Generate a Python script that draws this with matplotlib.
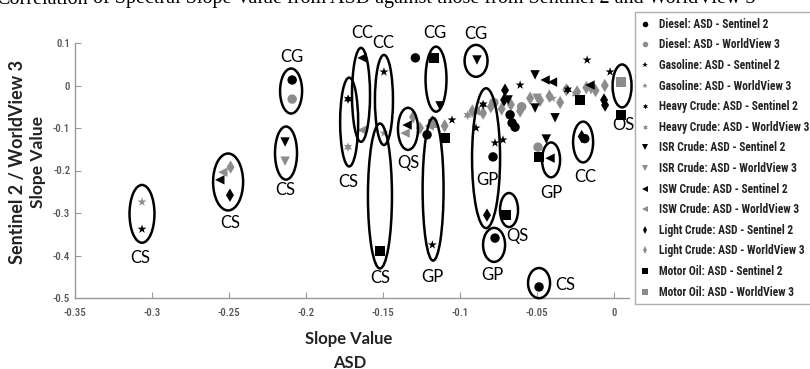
import matplotlib.pyplot as plt
from matplotlib.patches import Ellipse
from matplotlib.lines import Line2D
import matplotlib.font_manager as fm

# ---- data ----
diesel_s2_x = [-0.209, -0.129, -0.0786, -0.0773, -0.0487, -0.019, -0.0662, -0.0675, -0.0643, -0.1214]
diesel_s2_y = [0.013, 0.065, -0.168, -0.359, -0.474, -0.125, -0.088, -0.069, -0.098, -0.116]
diesel_wv_x = [-0.209, -0.0494, -0.078, -0.060]
diesel_wv_y = [-0.032, -0.145, -0.040, -0.050]

gasoline_s2_x = [-0.3065, -0.1494, -0.118, -0.0773, -0.0721, -0.0896, -0.1052, -0.061, -0.0175, -0.0026]
gasoline_s2_y = [-0.338, 0.032, -0.375, -0.135, -0.128, -0.100, -0.081, 0.001, 0.060, 0.032]
gasoline_wv_x = [-0.3065, -0.1494, -0.040]
gasoline_wv_y = [-0.274, -0.112, -0.030]

heavy_s2_x = [-0.1727, -0.030, -0.085]
heavy_s2_y = [-0.032, -0.010, -0.045]
heavy_wv_x = [-0.1727, -0.025, -0.095]
heavy_wv_y = [-0.145, -0.020, -0.070]

isr_s2_x = [-0.2136, -0.113, -0.089, -0.044, -0.0513, -0.0513, -0.0383, -0.0688]
isr_s2_y = [-0.133, -0.048, 0.060, -0.126, 0.025, -0.053, -0.076, -0.034]
isr_wv_x = [-0.2136, -0.050, -0.015]
isr_wv_y = [-0.178, -0.030, -0.010]

isw_s2_x = [-0.256, -0.1636, -0.1344, -0.0416, -0.0448, -0.0156, -0.040]
isw_s2_y = [-0.222, 0.065, -0.093, -0.171, 0.013, 0.001, 0.008]
isw_wv_x = [-0.254, -0.1636, -0.1357, -0.090, -0.120]
isw_wv_y = [-0.204, -0.105, -0.112, -0.060, -0.095]

light_s2_x = [-0.2494, -0.0825, -0.0708, -0.0714, -0.0058, -0.021, -0.0065]
light_s2_y = [-0.258, -0.305, -0.011, -0.034, -0.046, -0.120, -0.034]
light_wv_x = [-0.249, -0.1305, -0.126, -0.118, -0.110, -0.092, -0.085, -0.080, -0.073, -0.067,
              -0.061, -0.0545, -0.048, -0.042, -0.035, -0.031, -0.024, -0.018, -0.012, -0.006]
light_wv_y = [-0.192, -0.074, -0.100, -0.085, -0.095, -0.060, -0.065, -0.050, -0.055, -0.045,
              -0.060, -0.030, -0.035, -0.025, -0.040, -0.010, -0.015, -0.005, -0.012, 0.000]

motor_s2_x = [-0.152, -0.1169, -0.0701, -0.0487, 0.0045, -0.1097, -0.0221]
motor_s2_y = [-0.389, 0.065, -0.305, -0.168, -0.069, -0.124, -0.034]
motor_wv_x = [0.0045, -0.118]
motor_wv_y = [0.008, -0.090]

# ellipse groups: centre x, centre y, width, height, label, label x, label y
ell_cx = [-0.3065, -0.2506, -0.213, -0.2097, -0.172, -0.1643, -0.1494, -0.152, -0.1338, -0.1156,
          -0.0896, -0.1175, -0.0831, -0.0779, -0.0682, -0.0487, -0.0409, -0.0201, 0.0052]
ell_cy = [-0.302, -0.227, -0.159, -0.013, -0.086, -0.022, -0.034, -0.26, -0.102, 0.015,
          0.058, -0.244, -0.171, -0.375, -0.293, -0.465, -0.175, -0.133, -0.001]
ell_w = [0.0162, 0.0195, 0.0143, 0.0143, 0.0117, 0.0117, 0.0117, 0.0156, 0.013, 0.0136,
         0.0149, 0.0136, 0.0182, 0.0143, 0.0117, 0.0143, 0.0117, 0.013, 0.0123]
ell_h = [0.136, 0.134, 0.125, 0.106, 0.209, 0.221, 0.212, 0.341, 0.099, 0.153,
         0.075, 0.336, 0.329, 0.08, 0.08, 0.071, 0.082, 0.096, 0.101]
lab_txt = ['CS', 'CS', 'CS', 'CG', 'CS', 'CC', 'CC', 'CS', 'QS', 'CG',
           'CG', 'GP', 'GP', 'GP', 'QS', 'CS', 'GP', 'CC', 'OS']
lab_x = [-0.3078, -0.2494, -0.2136, -0.2091, -0.1727, -0.1636, -0.150, -0.152, -0.1338, -0.1162,
         -0.0896, -0.1182, -0.0825, -0.0792, -0.063, -0.0318, -0.0409, -0.0188, 0.0058]
lab_y = [-0.406, -0.324, -0.246, 0.067, -0.227, 0.124, 0.100, -0.453, -0.182, 0.124,
         0.121, -0.451, -0.222, -0.446, -0.354, -0.469, -0.253, -0.215, -0.093]

BLACK = 'black'
GRAY = '#8c8c8c'
hexagram = (6, 1, 0)

series = [
    ('Diesel: ASD - Sentinel 2', diesel_s2_x, diesel_s2_y, 'o', BLACK),
    ('Diesel: ASD - WorldView 3', diesel_wv_x, diesel_wv_y, 'o', GRAY),
    ('Gasoline: ASD - Sentinel 2', gasoline_s2_x, gasoline_s2_y, '*', BLACK),
    ('Gasoline: ASD - WorldView 3', gasoline_wv_x, gasoline_wv_y, '*', GRAY),
    ('Heavy Crude: ASD - Sentinel 2', heavy_s2_x, heavy_s2_y, hexagram, BLACK),
    ('Heavy Crude: ASD - WorldView 3', heavy_wv_x, heavy_wv_y, hexagram, GRAY),
    ('ISR Crude: ASD - Sentinel 2', isr_s2_x, isr_s2_y, 'v', BLACK),
    ('ISR Crude: ASD - WorldView 3', isr_wv_x, isr_wv_y, 'v', GRAY),
    ('ISW Crude: ASD - Sentinel 2', isw_s2_x, isw_s2_y, '<', BLACK),
    ('ISW Crude: ASD - WorldView 3', isw_wv_x, isw_wv_y, '<', GRAY),
    ('Light Crude: ASD - Sentinel 2', light_s2_x, light_s2_y, 'd', BLACK),
    ('Light Crude: ASD - WorldView 3', light_wv_x, light_wv_y, 'd', GRAY),
    ('Motor Oil: ASD - Sentinel 2', motor_s2_x, motor_s2_y, 's', BLACK),
    ('Motor Oil: ASD - WorldView 3', motor_wv_x, motor_wv_y, 's', GRAY),
]

narrow = ['Roboto Condensed', 'Arial Narrow', 'Liberation Sans Narrow', 'Roboto', 'DejaVu Sans']
label_font = ['Lato', 'DejaVu Sans']

fig = plt.figure(figsize=(8.1, 3.69), dpi=100)
ax = fig.add_axes([75 / 810, 1 - 298 / 369, (629 - 75) / 810, (298 - 43) / 369])

# gray (WorldView) first so black sits on top
for name, xs, ys, m, c in series[1::2] + series[0::2]:
    ax.scatter(xs, ys, marker=m, s=46, color=c, edgecolors='none', clip_on=False, zorder=3)

for i in range(len(ell_cx)):
    ax.add_patch(Ellipse((ell_cx[i], ell_cy[i]), ell_w[i], ell_h[i], fill=False,
                         edgecolor='black', lw=1.8, clip_on=False, zorder=4))
    ax.text(lab_x[i], lab_y[i], lab_txt[i], ha='center', va='center', fontsize=12,
            family=label_font, color='black')

ax.set_xlim(-0.35, 0.0097)
ax.set_ylim(-0.5, 0.1)
ax.set_xticks([-0.35, -0.3, -0.25, -0.2, -0.15, -0.1, -0.05, 0])
ax.set_xticklabels(['-0.35', '-0.3', '-0.25', '-0.2', '-0.15', '-0.1', '-0.05', '0'])
ax.set_yticks([-0.5, -0.4, -0.3, -0.2, -0.1, 0, 0.1])
ax.set_yticklabels(['-0.5', '-0.4', '-0.3', '-0.2', '-0.1', '0', '0.1'])
for s in ['top', 'right']:
    ax.spines[s].set_visible(False)
for s in ['left', 'bottom']:
    ax.spines[s].set_color('#999999')
    ax.spines[s].set_linewidth(1.0)
ax.tick_params(direction='in', length=4, color='#999999', labelcolor='#555555', labelsize=7.8)
for t in ax.get_xticklabels() + ax.get_yticklabels():
    t.set_family(narrow)
    t.set_fontweight('medium')
ax.tick_params(axis='x', pad=7)

# axis titles
fig.text(18 / 810, 1 - 162 / 369, 'Sentinel 2 / WorldView 3', rotation=90, ha='center', va='center',
         fontsize=13, fontweight='bold', family=label_font, color='#222222')
fig.text(38 / 810, 1 - 162 / 369, 'Slope Value', rotation=90, ha='center', va='center',
         fontsize=12.5, fontweight='bold', family=label_font, color='#222222')
fig.text(349 / 810, 1 - 339 / 369, 'Slope Value', ha='center', va='center',
         fontsize=12, fontweight='bold', family=label_font, color='#222222')
fig.text(350 / 810, 1 - 363 / 369, 'ASD', ha='center', va='center',
         fontsize=12, fontweight='bold', family=label_font, color='#222222')

# title from the page, cut off at the top edge
serif = ['Liberation Serif', 'DejaVu Serif']
fig.text(88 / 810, 1 - 3.5 / 369, 'Correlation', ha='right', va='baseline',
         fontsize=14.5, family=serif, color='black')
fig.text(93 / 810, 1 - 3.5 / 369, 'of Spectral Slope Value from ASD against those from Sentinel 2 and WorldView 3',
         ha='left', va='baseline', fontsize=14.5, family=serif, color='black')

handles = [Line2D([], [], ls='none', marker=m, color=c, markersize=4, markeredgewidth=0)
           for name, xs, ys, m, c in series]
leg = fig.legend(handles, [s[0] for s in series], loc='upper left',
                 bbox_to_anchor=(635 / 810, 1 - 12 / 369), bbox_transform=fig.transFigure,
                 borderaxespad=0, frameon=True, fancybox=False, handlelength=0.8,
                 handletextpad=0.8, labelspacing=0.66, borderpad=0.5,
                 prop=fm.FontProperties(family=narrow, size=8.3, weight='bold'))
leg.get_frame().set_edgecolor('#999999')
leg.get_frame().set_linewidth(1.0)
for t in leg.get_texts():
    t.set_color('#222222')

fig.savefig('out.png', dpi=100)
